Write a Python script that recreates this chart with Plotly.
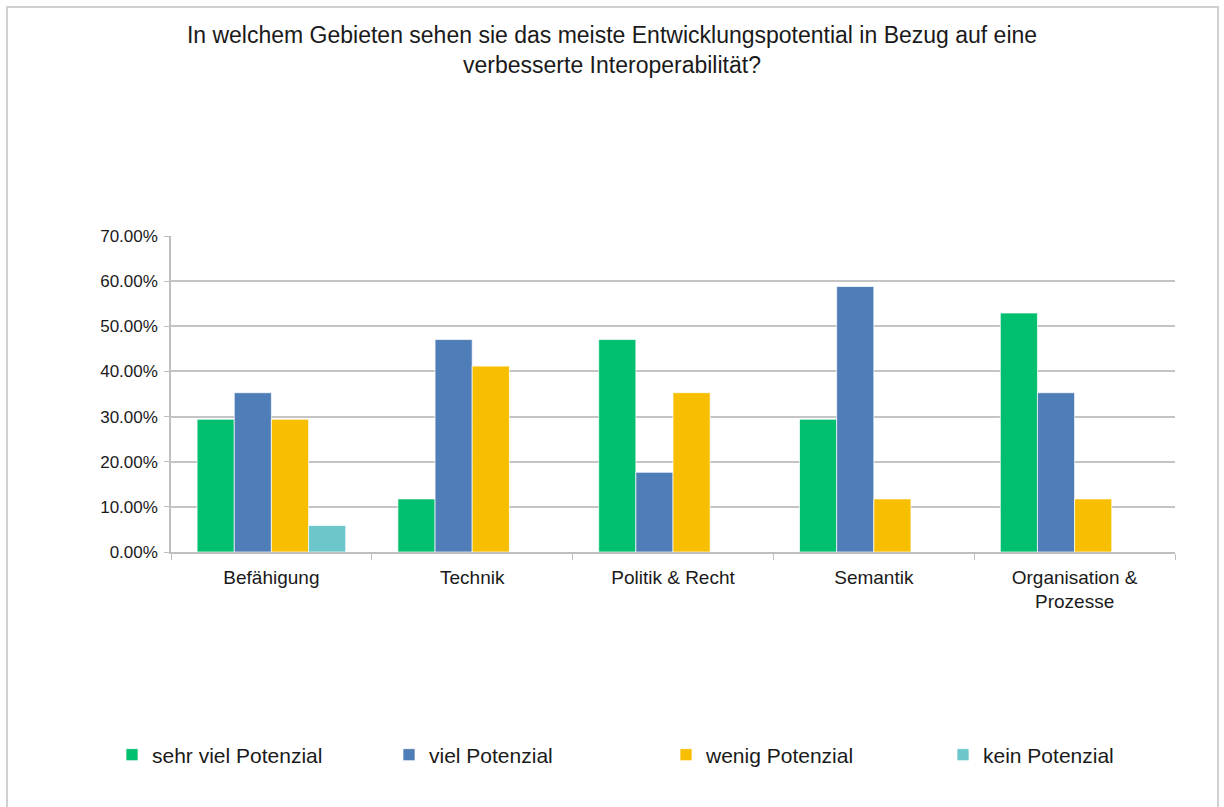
import plotly.graph_objects as go

# Survey answers per area (share of respondents)
categories = ["Befähigung", "Technik", "Politik & Recht", "Semantik", "Organisation &<br>Prozesse"]
series_names = ["sehr viel Potenzial", "viel Potenzial", "wenig Potenzial", "kein Potenzial"]
sehr_viel = [0.2941, 0.1176, 0.4706, 0.2941, 0.5294]
viel = [0.3529, 0.4706, 0.1765, 0.5882, 0.3529]
wenig = [0.2941, 0.4118, 0.3529, 0.1176, 0.1176]
kein = [0.0588, 0.0, 0.0, 0.0, 0.0]
colors = ["#00BF6F", "#4F7DB7", "#F8BE00", "#6CC7CB"]

W, H = 1224, 807
L, R, T, B = 171, 49, 236, 255
pw, ph = W - L - R, H - T - B

def px_x(x):
    return (x - L) / pw

def px_y(y):
    return (H - B - y) / ph

fig = go.Figure()
for name, vals, col in zip(series_names, [sehr_viel, viel, wenig, kein], colors):
    fig.add_trace(go.Bar(
        x=categories, y=vals, name=name,
        marker=dict(color=col, line=dict(color="rgba(255,255,255,0.7)", width=1)),
    ))

fig.update_layout(
    width=W, height=H,
    margin=dict(l=L, r=R, t=T, b=B),
    paper_bgcolor="white", plot_bgcolor="white",
    font=dict(family="Liberation Sans, Arial, sans-serif", color="#262626"),
    barmode="group", bargap=0.26, bargroupgap=0,
    title=dict(
        text="In welchem Gebieten sehen sie das meiste Entwicklungspotential in Bezug auf eine<br>verbesserte Interoperabilität?",
        x=0.5, xref="container", xanchor="center",
        y=1 - 43 / H, yref="container", yanchor="middle",
        font=dict(size=23, color="#1a1a1a"),
    ),
    legend=dict(
        orientation="h", x=px_x(112), xanchor="left",
        y=px_y(755), yanchor="middle",
        entrywidth=232, entrywidthmode="pixels",
        font=dict(size=21, color="#1a1a1a"),
        bgcolor="rgba(0,0,0,0)",
        traceorder="normal",
    ),
    showlegend=True,
)

fig.update_xaxes(
    showline=True, linecolor="#BFBFBF", linewidth=1.5,
    ticks="outside", tickson="boundaries", ticklen=6, tickcolor="#BFBFBF",
    tickfont=dict(size=19, color="#1a1a1a"),
    ticklabelstandoff=7,
)
fig.update_yaxes(
    range=[0, 0.7], dtick=0.1, tickformat=".2%",
    showgrid=True, gridcolor="#C4C4C4", gridwidth=1.5,
    showline=True, linecolor="#BFBFBF", linewidth=1.5,
    ticks="outside", ticklen=5, tickcolor="#BFBFBF",
    tickfont=dict(size=17, color="#1a1a1a"),
    ticklabelstandoff=3, zeroline=False,
)

# Outer chart frame
fig.add_shape(
    type="rect", xref="paper", yref="paper",
    x0=px_x(7), x1=px_x(1218), y0=px_y(815), y1=px_y(7),
    line=dict(color="#D0D0D0", width=2), fillcolor="rgba(0,0,0,0)", layer="below",
)

fig.write_html("out.html")
